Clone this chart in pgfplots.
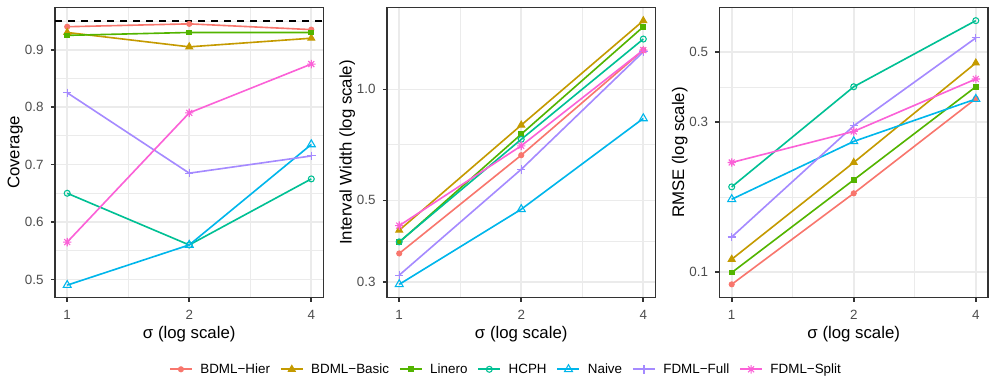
\documentclass[border=0pt]{standalone}
\usepackage{pgfplots}
\pgfplotsset{compat=1.18}
\usepackage{fontspec}
\setmainfont{Liberation Sans}
\definecolor{cHier}{HTML}{F8766D}
\definecolor{cBasic}{HTML}{C49A00}
\definecolor{cLin}{HTML}{53B400}
\definecolor{cHCPH}{HTML}{00C094}
\definecolor{cNaive}{HTML}{00B6EB}
\definecolor{cFull}{HTML}{A58AFF}
\definecolor{cSplit}{HTML}{FB61D7}
\definecolor{grid92}{HTML}{EBEBEB}
\definecolor{grey20}{HTML}{333333}
\definecolor{grey30}{HTML}{4D4D4D}
\newcommand{\ticksize}{\fontsize{13.4pt}{16pt}\selectfont}
\newcommand{\titlesize}{\fontsize{16.8pt}{20pt}\selectfont}
\pgfdeclareplotmark{rstar}{%
 \pgfpathmoveto{\pgfqpoint{-\pgfplotmarksize}{0pt}}\pgfpathlineto{\pgfqpoint{\pgfplotmarksize}{0pt}}%
 \pgfpathmoveto{\pgfqpoint{0pt}{-\pgfplotmarksize}}\pgfpathlineto{\pgfqpoint{0pt}{\pgfplotmarksize}}%
 \pgfpathmoveto{\pgfqpoint{-0.7071\pgfplotmarksize}{-0.7071\pgfplotmarksize}}\pgfpathlineto{\pgfqpoint{0.7071\pgfplotmarksize}{0.7071\pgfplotmarksize}}%
 \pgfpathmoveto{\pgfqpoint{-0.7071\pgfplotmarksize}{0.7071\pgfplotmarksize}}\pgfpathlineto{\pgfqpoint{0.7071\pgfplotmarksize}{-0.7071\pgfplotmarksize}}%
 \pgfusepathqstroke}
\pgfplotsset{
 sHier/.style={color=cHier, line width=1.62pt, mark=*, mark size=2.5pt, mark options={solid, fill=cHier, line width=1.08pt}},
 sBasic/.style={color=cBasic, line width=1.62pt, mark=triangle*, mark size=3.9pt, mark options={solid, fill=cBasic, line width=1.08pt}},
 sLin/.style={color=cLin, line width=1.62pt, mark=square*, mark size=2.3pt, mark options={solid, fill=cLin, line width=1.08pt}},
 sHCPH/.style={color=cHCPH, line width=1.62pt, mark=o, mark size=2.98pt, mark options={solid, line width=1.08pt}},
 sNaive/.style={color=cNaive, line width=1.62pt, mark=triangle, mark size=4.6pt, mark options={solid, line width=1.08pt}},
 sFull/.style={color=cFull, line width=1.62pt, mark=+, mark size=4.2pt, mark options={solid, line width=1.08pt}},
 sSplit/.style={color=cSplit, line width=1.62pt, mark=rstar, mark size=4.2pt, mark options={solid, line width=1.08pt}},
}
\pgfplotsset{every axis/.append style={
  scale only axis, width=268.5pt, height=290pt, anchor=south west,
  xmin=0.933, xmax=4.287,
  xtick={1,2,4}, xticklabels={1,2,4}, minor xtick={1.41421,2.82843},
  xmajorgrids, ymajorgrids, xminorgrids, yminorgrids,
  major grid style={color=grid92, line width=1.62pt},
  minor grid style={color=grid92, line width=0.81pt},
  axis line style={color=grey20, line width=1.62pt},
  tick align=outside, major tick length=4.2pt, minor tick length=0pt,
  major tick style={color=grey20, line width=1.62pt},
  minor tick style={draw=none},
  xtick pos=lower, ytick pos=left,
  ticklabel style={font=\ticksize, text=grey30},
  xticklabel style={anchor=base, yshift=-18pt},
  yticklabel style={xshift=-3.8pt},
  label style={font=\titlesize, text=black},
  xlabel={σ (log scale)},
  xlabel style={at={(axis description cs:0.5,-0.127)}, anchor=center},
  ylabel style={at={(axis description cs:-0.148,0.5)}, anchor=center},
}}
\begin{document}
\begin{tikzpicture}
\path[use as bounding box] (0,0) rectangle (996pt,387pt);
% Panel 1: Coverage
\begin{axis}[xmode=log, at={(55pt,89.5pt)},
  ymin=0.4685, ymax=0.9735,
  ytick={0.5,0.6,0.7,0.8,0.9}, yticklabels={0.5,0.6,0.7,0.8,0.9},
  minor ytick={0.55,0.65,0.75,0.85,0.95},
  ylabel={Coverage},
  legend columns=7,
  legend image code/.code={\draw[mark repeat=2,mark phase=2,#1] plot coordinates {(0pt,0pt)(11pt,0pt)(22pt,0pt)};},
  legend style={at={(1.6797,-0.2476)}, anchor=center, draw=none, fill=none,
    font=\ticksize, text=black,
    /tikz/every odd column/.append style={column sep=5.6pt},
    /tikz/every even column/.append style={column sep=8pt}},
  ]
\addplot[black, line width=1.62pt, dash pattern=on 6.5pt off 6.5pt, forget plot] coordinates {(0.933,0.95) (4.287,0.95)};
\addplot[sHier] coordinates {(1,0.94) (2,0.945) (4,0.935)};
\addplot[sBasic] coordinates {(1,0.93) (2,0.905) (4,0.92)};
\addplot[sLin] coordinates {(1,0.925) (2,0.93) (4,0.93)};
\addplot[sHCPH] coordinates {(1,0.65) (2,0.56) (4,0.675)};
\addplot[sNaive] coordinates {(1,0.49) (2,0.56) (4,0.735)};
\addplot[sFull] coordinates {(1,0.825) (2,0.685) (4,0.715)};
\addplot[sSplit] coordinates {(1,0.565) (2,0.79) (4,0.875)};
\legend{BDML−Hier, BDML−Basic, Linero, HCPH, Naive, FDML−Full, FDML−Split}
\end{axis}
% Panel 2: Interval width
\begin{axis}[xmode=log, at={(387pt,89.5pt)},
  ymode=log, ymin=0.2727, ymax=1.667,
  ytick={0.3,0.5,1}, yticklabels={0.3,0.5,1.0},
  minor ytick={0.3873,0.7071},
  ylabel={Interval Width (log scale)},
  ]
\addplot[sHier] coordinates {(1,0.359) (2,0.663) (4,1.278)};
\addplot[sBasic] coordinates {(1,0.415) (2,0.80) (4,1.535)};
\addplot[sLin] coordinates {(1,0.385) (2,0.756) (4,1.478)};
\addplot[sHCPH] coordinates {(1,0.386) (2,0.732) (4,1.369)};
\addplot[sNaive] coordinates {(1,0.296) (2,0.473) (4,0.834)};
\addplot[sFull] coordinates {(1,0.3135) (2,0.607) (4,1.264)};
\addplot[sSplit] coordinates {(1,0.427) (2,0.703) (4,1.278)};
\end{axis}
% Panel 3: RMSE
\begin{axis}[xmode=log, at={(719.5pt,89.5pt)},
  ymode=log, ymin=0.0830, ymax=0.694,
  ytick={0.1,0.3,0.5}, yticklabels={0.1,0.3,0.5},
  minor ytick={0.1732,0.3873},
  ylabel={RMSE (log scale)},
  ]
\addplot[sHier] coordinates {(1,0.0914) (2,0.178) (4,0.356)};
\addplot[sBasic] coordinates {(1,0.1098) (2,0.2231) (4,0.4622)};
\addplot[sLin] coordinates {(1,0.0996) (2,0.1964) (4,0.3885)};
\addplot[sHCPH] coordinates {(1,0.1866) (2,0.3885) (4,0.6303)};
\addplot[sNaive] coordinates {(1,0.1704) (2,0.2603) (4,0.355)};
\addplot[sFull] coordinates {(1,0.1293) (2,0.2918) (4,0.5553)};
\addplot[sSplit] coordinates {(1,0.2231) (2,0.2801) (4,0.411)};
\end{axis}
\end{tikzpicture}
\end{document}
